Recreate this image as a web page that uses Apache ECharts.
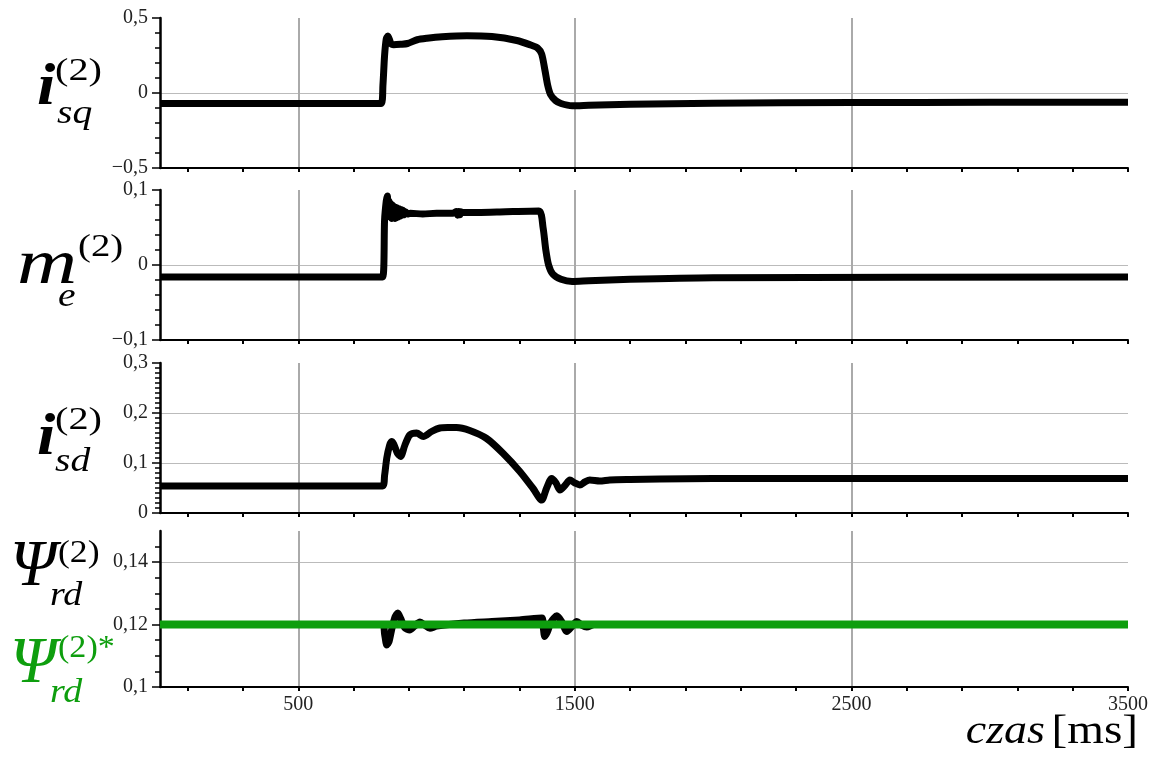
<!DOCTYPE html>
<html>
<head>
<meta charset="utf-8">
<script src="https://cdn.jsdelivr.net/npm/echarts@6/dist/echarts.min.js"></script>
<style>
html,body{margin:0;padding:0;background:#fff;}
#chart{width:1152px;height:757px;}
</style>
</head>
<body>
<div id="chart"></div>
<script>
// ---------- data ----------
const tIsq = [0, 800, 806, 812, 818, 824, 835, 845, 870, 895, 930, 965, 1020, 1110, 1200, 1290, 1340, 1365, 1380, 1392, 1402, 1412, 1430, 1450, 1490, 1550, 1700, 2000, 2500, 3000, 3500];
const isq  = [-0.07, -0.07, 0.05, 0.25, 0.36, 0.38, 0.33, 0.322, 0.325, 0.33, 0.355, 0.365, 0.375, 0.382, 0.376, 0.35, 0.32, 0.3, 0.26, 0.15, 0.05, -0.01, -0.05, -0.07, -0.085, -0.082, -0.075, -0.068, -0.064, -0.062, -0.062];

const tMe = [0, 805, 812, 818, 822, 825, 828, 831, 834, 837, 840, 843, 846, 849, 852, 855, 858, 861, 864, 867, 870, 874, 878, 882, 888, 895, 905, 950, 1000, 1060, 1072, 1076, 1080, 1084, 1088, 1095, 1150, 1250, 1370, 1385, 1395, 1405, 1420, 1450, 1490, 1550, 1700, 2000, 3500];
const me  = [-0.016, -0.016, 0.06, 0.085, 0.092, 0.072, 0.085, 0.064, 0.082, 0.062, 0.08, 0.063, 0.078, 0.062, 0.077, 0.063, 0.076, 0.064, 0.075, 0.065, 0.074, 0.066, 0.073, 0.067, 0.071, 0.068, 0.069, 0.068, 0.069, 0.069, 0.0715, 0.0665, 0.0715, 0.067, 0.071, 0.07, 0.07, 0.071, 0.072, 0.05, 0.02, 0.0, -0.012, -0.019, -0.022, -0.021, -0.019, -0.017, -0.016];

const tIsd = [0, 805, 812, 820, 830, 837, 845, 858, 870, 885, 903, 928, 952, 982, 1012, 1040, 1072, 1120, 1181, 1241, 1301, 1349, 1380, 1398, 1416, 1432, 1446, 1464, 1482, 1500, 1518, 1536, 1554, 1590, 1626, 1700, 1807, 2000, 2500, 3000, 3500];
const isd  = [0.054, 0.054, 0.075, 0.11, 0.135, 0.143, 0.138, 0.12, 0.113, 0.135, 0.156, 0.16, 0.153, 0.163, 0.17, 0.171, 0.171, 0.165, 0.149, 0.119, 0.083, 0.049, 0.026, 0.05, 0.069, 0.06, 0.046, 0.055, 0.066, 0.06, 0.056, 0.062, 0.066, 0.064, 0.066, 0.067, 0.068, 0.069, 0.069, 0.069, 0.069];

const tPsi = [0, 805, 812, 820, 828, 838, 850, 860, 870, 885, 903, 920, 940, 958, 976, 1000, 1100, 1200, 1300, 1381, 1386, 1391, 1400, 1415, 1435, 1452, 1471, 1490, 1507, 1525, 1543, 1570, 1620, 3500];
const psi  = [0.12, 0.12, 0.117, 0.1135, 0.1145, 0.1185, 0.1225, 0.1237, 0.122, 0.119, 0.1183, 0.1195, 0.1208, 0.1198, 0.1188, 0.1195, 0.1205, 0.121, 0.1215, 0.1221, 0.119, 0.1162, 0.1175, 0.121, 0.1228, 0.121, 0.1178, 0.1195, 0.121, 0.1198, 0.1192, 0.12, 0.12, 0.12];

const tPsiRef = [0, 3500];
const psiRef  = [0.12, 0.12];

// ---------- ticks ----------
const xTicks = [100, 300, 500, 700, 900, 1100, 1300, 1500, 1700, 1900, 2100, 2300, 2500, 2700, 2900, 3100, 3300, 3500];
const xLabels = [500, 1500, 2500, 3500];
const xGridLines = [500, 1500, 2500];

const yRanges = [[-0.5, 0.5], [-0.1, 0.1], [0, 0.3], [0.1, 0.15]];
const yMajor = [
  [-0.5, 0, 0.5],
  [-0.1, 0, 0.1],
  [0, 0.1, 0.2, 0.3],
  [0.1, 0.12, 0.14]
];
const yMinor = [
  [-0.4, -0.3, -0.2, -0.1, 0.1, 0.2, 0.3, 0.4],
  [-0.08, -0.06, -0.04, -0.02, 0.02, 0.04, 0.06, 0.08],
  [0.01, 0.02, 0.03, 0.04, 0.05, 0.06, 0.07, 0.08, 0.09, 0.11, 0.12, 0.13, 0.14, 0.15, 0.16, 0.17, 0.18, 0.19, 0.21, 0.22, 0.23, 0.24, 0.25, 0.26, 0.27, 0.28, 0.29],
  [0.105, 0.11, 0.115, 0.125, 0.13, 0.135, 0.145]
];
const showTopLine = [false, false, false, true];

// ---------- layout ----------
const FONT = '"Liberation Serif", "Times New Roman", serif';
const grids = [
  {left: 160, width: 968, top: 18, height: 150},
  {left: 160, width: 968, top: 190, height: 150},
  {left: 160, width: 968, top: 363, height: 150},
  {left: 160, width: 968, top: 531, height: 156}
];

function fmt(v) {
  return String(v).replace('.', ',').replace('-', '\u2212');
}
function pairs(t, v) { return t.map((x, i) => [x, v[i]]); }

const xAxes = [], yAxes = [];
grids.forEach((g, i) => {
  const last = i === grids.length - 1;
  xAxes.push({
    type: 'value', gridIndex: i, min: 0, max: 3500, position: 'bottom',
    axisLine: {show: true, onZero: false, lineStyle: {color: '#000', width: 2}},
    axisTick: {show: true, customValues: xTicks, length: 4, lineStyle: {color: '#000', width: 2}},
    axisLabel: {show: last, customValues: xLabels, margin: 8, color: '#222', fontFamily: FONT, fontSize: 20, formatter: v => String(v)},
    splitLine: {show: false}
  });
  xAxes.push({
    type: 'value', gridIndex: i, min: 0, max: 3500, position: 'bottom',
    axisLine: {show: false, onZero: false},
    axisTick: {show: false, customValues: xGridLines},
    axisLabel: {show: false},
    splitLine: {show: true, showMinLine: true, showMaxLine: true, lineStyle: {color: '#aaaaaa', width: 2}}
  });
  yAxes.push({
    type: 'value', gridIndex: i, min: yRanges[i][0], max: yRanges[i][1], position: 'left',
    axisLine: {show: true, onZero: false, lineStyle: {color: '#000', width: 2.5}},
    axisTick: {show: true, customValues: yMajor[i], length: 8, lineStyle: {color: '#000', width: 1.5}},
    axisLabel: {show: true, customValues: yMajor[i], margin: 12, color: '#222', fontFamily: FONT, fontSize: 20, formatter: fmt},
    splitLine: {show: true, showMinLine: false, showMaxLine: showTopLine[i], lineStyle: {color: '#bbbbbb', width: 1.2}}
  });
  yAxes.push({
    type: 'value', gridIndex: i, min: yRanges[i][0], max: yRanges[i][1], position: 'left',
    axisLine: {show: false, onZero: false},
    axisTick: {show: true, customValues: yMinor[i], length: 5, lineStyle: {color: '#000', width: 1.5}},
    axisLabel: {show: false},
    splitLine: {show: false}
  });
});

const blackLine = {color: '#000', width: 7, cap: 'butt', join: 'round'};
function lineSeries(gi, t, v, style, z) {
  return {
    type: 'line', xAxisIndex: gi * 2, yAxisIndex: gi * 2,
    data: pairs(t, v), showSymbol: false, symbol: 'none', smooth: 0.25,
    lineStyle: style, itemStyle: {color: style.color}, animation: false, silent: true, z: z || 2
  };
}

const GREEN = '#0e9e0e';
const series = [
  lineSeries(0, tIsq, isq, blackLine),
  lineSeries(1, tMe, me, blackLine),
  lineSeries(2, tIsd, isd, blackLine),
  lineSeries(3, tPsi, psi, blackLine),
  lineSeries(3, tPsiRef, psiRef, {color: GREEN, width: 8, cap: 'butt'}, 3)
];

function txt(x, y, s, size, opts) {
  opts = opts || {};
  return {
    type: 'text', x: x, y: y, silent: true, scaleX: opts.sx || 1,
    style: {
      text: s, fill: opts.color || '#000',
      font: (opts.style || '') + ' ' + (opts.weight || '') + ' ' + size + 'px ' + FONT,
      textAlign: opts.align || 'left', textVerticalAlign: 'middle'
    }
  };
}
const graphic = [
  // i_sq^(2)
  txt(37, 88, 'i', 60, {style: 'italic', weight: 'bold', sx: 1.1}),
  txt(55, 72, '(2)', 31, {sx: 1.3}),
  txt(57, 114, 'sq', 33, {style: 'italic', sx: 1.2}),
  // m_e^(2)
  txt(17, 266, 'm', 64, {style: 'italic', sx: 1.3}),
  txt(78, 248, '(2)', 31, {sx: 1.25}),
  txt(58, 297, 'e', 33, {style: 'italic', sx: 1.2}),
  // i_sd^(2)
  txt(37, 438, 'i', 60, {style: 'italic', weight: 'bold', sx: 1.1}),
  txt(55, 421, '(2)', 31, {sx: 1.3}),
  txt(55, 462, 'sd', 33, {style: 'italic', sx: 1.2}),
  // Psi_rd^(2)
  txt(10, 568, '\u03A8', 66, {style: 'italic'}),
  txt(58, 554, '(2)', 31, {sx: 1.15}),
  txt(50, 596, 'rd', 33, {style: 'italic', sx: 1.15}),
  // Psi_rd^(2)*
  txt(10, 665, '\u03A8', 66, {style: 'italic', color: GREEN}),
  txt(58, 649, '(2)*', 31, {color: GREEN, sx: 1.1}),
  txt(50, 693, 'rd', 33, {style: 'italic', color: GREEN, sx: 1.15}),
  // x axis title
  txt(1045, 732, 'czas', 40, {style: 'italic', align: 'right', sx: 1.15}),
  txt(1138, 732, '[ms]', 40, {align: 'right', sx: 1.18})
];

const chart = echarts.init(document.getElementById('chart'), null, {renderer: 'canvas'});
chart.setOption({
  backgroundColor: '#fff',
  animation: false,
  grid: grids,
  xAxis: xAxes,
  yAxis: yAxes,
  series: series,
  graphic: graphic
});
</script>
</body>
</html>
